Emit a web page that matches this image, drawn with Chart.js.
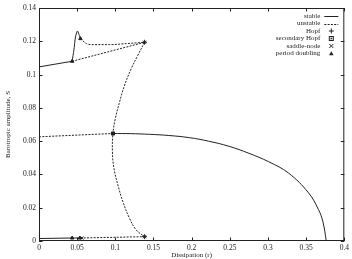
<!DOCTYPE html>
<html><head><meta charset="utf-8">
<script src="https://cdn.jsdelivr.net/npm/chart.js@4"></script>
<style>html,body{margin:0;padding:0;background:#fff}#w{width:352px;height:259px}</style>
</head><body><div id="w"><canvas id="c"></canvas></div>
<script>
// ---- data ----
const xTicks = [0, 0.05, 0.1, 0.15, 0.2, 0.25, 0.3, 0.35, 0.4];
const yTicks = [0, 0.02, 0.04, 0.06, 0.08, 0.1, 0.12, 0.14];

// stable branches
const stableUpperX = [0, 0.0434];
const stableUpperY = [0.1046, 0.108];
const stableCuspX = [0.0434, 0.0457, 0.0478, 0.0504, 0.0543];
const stableCuspY = [0.108, 0.1146, 0.1226, 0.1262, 0.1216];
const stableLowerX = [0.0969, 0.12, 0.1447, 0.17, 0.197, 0.222, 0.249, 0.275, 0.301, 0.327, 0.353, 0.366, 0.372, 0.3764];
const stableLowerY = [0.0646, 0.0645, 0.0641, 0.0634, 0.0621, 0.0600, 0.0569, 0.0527, 0.0476, 0.0408, 0.0290, 0.0190, 0.0115, 0];
const stableBottomX = [0, 0.0434, 0.0543];
const stableBottomY = [0.0015, 0.0018, 0.0018];

// unstable branches
const unstableTopX = [0.0543, 0.0622, 0.0708, 0.0926, 0.1143, 0.1383];
const unstableTopY = [0.1216, 0.1186, 0.118, 0.118, 0.1186, 0.1194];
const unstableDiagX = [0.0434, 0.1383];
const unstableDiagY = [0.108, 0.1194];
const unstableArcX = [0.1383, 0.1295, 0.1209, 0.1121, 0.1056, 0.1, 0.0969, 0.0962, 0.0982, 0.1034, 0.1099, 0.1186, 0.1274, 0.1383];
const unstableArcY = [0.1194, 0.1116, 0.1036, 0.0936, 0.0836, 0.0736, 0.0646, 0.0536, 0.0436, 0.0336, 0.0236, 0.0136, 0.0066, 0.0026];
const unstableLeftX = [0, 0.0969];
const unstableLeftY = [0.0626, 0.0646];
const unstableBottomX = [0.0543, 0.1383];
const unstableBottomY = [0.0018, 0.0026];

// bifurcation points
const hopfX = [0.1383, 0.1383];
const hopfY = [0.1194, 0.0026];
const secHopfX = [0.0969];
const secHopfY = [0.0646];
const saddleX = [0.1383, 0.1383, 0.0562];
const saddleY = [0.1194, 0.0026, 0.0018];
const pdX = [0.0434, 0.0543, 0.0434, 0.0535];
const pdY = [0.108, 0.1216, 0.0018, 0.0018];

const legendLabels = ['stable', 'unstable', 'Hopf', 'secondary Hopf', 'saddle-node', 'period doubling'];

// ---- build ----
const pts = (xs, ys) => xs.map((x, i) => ({x, y: ys[i]}));
const FONT = {family: "'Liberation Serif', serif", size: 7};
const TICKFONT = {family: "'Liberation Serif', serif", size: 7.5};
const INK = '#222';
function line(xs, ys, dashed, tension, mono) {
  const d = {type: 'line', data: pts(xs, ys), borderColor: INK, borderWidth: 1,
    borderDash: dashed ? [2, 1.3] : [], pointRadius: 0, fill: false,
    tension: tension || 0, showLine: true};
  if (mono) d.cubicInterpolationMode = 'monotone';
  return d;
}
function marks(xs, ys, style, r, filled) {
  return {type: 'scatter', data: pts(xs, ys), pointStyle: style, pointRadius: r,
    borderColor: INK, backgroundColor: filled ? INK : 'rgba(0,0,0,0)', pointBorderWidth: 1, showLine: false};
}
const datasets = [
  line(stableUpperX, stableUpperY, false),
  line(stableCuspX, stableCuspY, false, 0.2),
  line(stableLowerX, stableLowerY, false, 0.4, false),
  line(stableBottomX, stableBottomY, false),
  line(unstableTopX, unstableTopY, true, 0.4, true),
  line(unstableDiagX, unstableDiagY, true),
  line(unstableArcX, unstableArcY, true, 0.4),
  line(unstableLeftX, unstableLeftY, true),
  line(unstableBottomX, unstableBottomY, true),
  marks(hopfX, hopfY, 'cross', 2.5, false),
  marks(secHopfX, secHopfY, 'rect', 2.2, true),
  marks(saddleX, saddleY, 'crossRot', 2.2, false),
  marks(pdX, pdY, 'triangle', 2, true)
];

const fmt = v => String(Number(v.toFixed(2)));

const framePlugin = {
  id: 'frame',
  afterDatasetsDraw(chart) {
    const {ctx, chartArea: a, scales: {x, y}} = chart;
    ctx.save();
    ctx.strokeStyle = INK; ctx.lineWidth = 1;
    ctx.strokeRect(a.left + 0.5, a.top + 0.5, a.right - a.left - 1, a.bottom - a.top - 1);
    const L = 3.5;
    ctx.beginPath();
    xTicks.forEach(v => { const p = Math.round(x.getPixelForValue(v)) + 0.5;
      ctx.moveTo(p, a.bottom); ctx.lineTo(p, a.bottom - L);
      ctx.moveTo(p, a.top); ctx.lineTo(p, a.top + L); });
    yTicks.forEach(v => { const p = Math.round(y.getPixelForValue(v)) + 0.5;
      ctx.moveTo(a.left, p); ctx.lineTo(a.left + L, p);
      ctx.moveTo(a.right, p); ctx.lineTo(a.right - L, p); });
    ctx.stroke();
    // legend
    ctx.font = "7px 'Liberation Serif', serif";
    ctx.fillStyle = INK; ctx.textAlign = 'right'; ctx.textBaseline = 'middle';
    const tx = a.right - 24, sx0 = a.right - 20, sx1 = a.right - 6, mx = a.right - 13;
    legendLabels.forEach((t, i) => {
      const yy = a.top + 8 + i * 7.5;
      ctx.fillText(t, tx, yy);
      ctx.beginPath(); ctx.setLineDash(i === 1 ? [2, 1.3] : []);
      const py = Math.round(yy) + 0.5;
      if (i === 0 || i === 1) { ctx.moveTo(sx0, py); ctx.lineTo(sx1, py); ctx.stroke(); }
      ctx.setLineDash([]);
      if (i === 2) { ctx.beginPath(); ctx.moveTo(mx - 2.5, yy); ctx.lineTo(mx + 2.5, yy); ctx.moveTo(mx, yy - 2.5); ctx.lineTo(mx, yy + 2.5); ctx.stroke(); }
      if (i === 3) { ctx.strokeRect(mx - 2, yy - 2, 4, 4); ctx.fillRect(mx - 0.8, yy - 0.8, 1.6, 1.6); }
      if (i === 4) { ctx.beginPath(); ctx.moveTo(mx - 2, yy - 2); ctx.lineTo(mx + 2, yy + 2); ctx.moveTo(mx + 2, yy - 2); ctx.lineTo(mx - 2, yy + 2); ctx.stroke(); }
      if (i === 5) { ctx.beginPath(); ctx.moveTo(mx, yy - 2.3); ctx.lineTo(mx + 2.3, yy + 1.8); ctx.lineTo(mx - 2.3, yy + 1.8); ctx.closePath(); ctx.fill(); }
    });
    ctx.restore();
  }
};

new Chart(document.getElementById('c'), {
  data: {datasets},
  options: {
    responsive: true, maintainAspectRatio: false, animation: false,
    layout: {padding: {top: 8, right: 6, left: 0, bottom: 0}},
    plugins: {legend: {display: false}, tooltip: {enabled: false}},
    scales: {
      x: {type: 'linear', min: 0, max: 0.4,
        afterBuildTicks: s => { s.ticks = xTicks.map(v => ({value: v})); },
        ticks: {font: TICKFONT, color: INK, padding: 3, maxRotation: 0, autoSkip: false, callback: fmt},
        grid: {display: false, drawTicks: false}, border: {display: false},
        title: {display: true, text: 'Dissipation (r)', font: FONT, color: INK, padding: {top: 0, bottom: 0}},
        afterFit: s => { s.height = 18; }},
      y: {type: 'linear', min: 0, max: 0.14,
        afterBuildTicks: s => { s.ticks = yTicks.map(v => ({value: v})); },
        ticks: {font: TICKFONT, color: INK, padding: 3, autoSkip: false, callback: fmt},
        grid: {display: false, drawTicks: false}, border: {display: false},
        title: {display: true, text: 'Barotropic amplitude, S', font: FONT, color: INK, padding: {top: 4, bottom: 0}},
        afterFit: s => { s.width = 39; }}
    }
  },
  plugins: [framePlugin]
});
</script></body></html>
